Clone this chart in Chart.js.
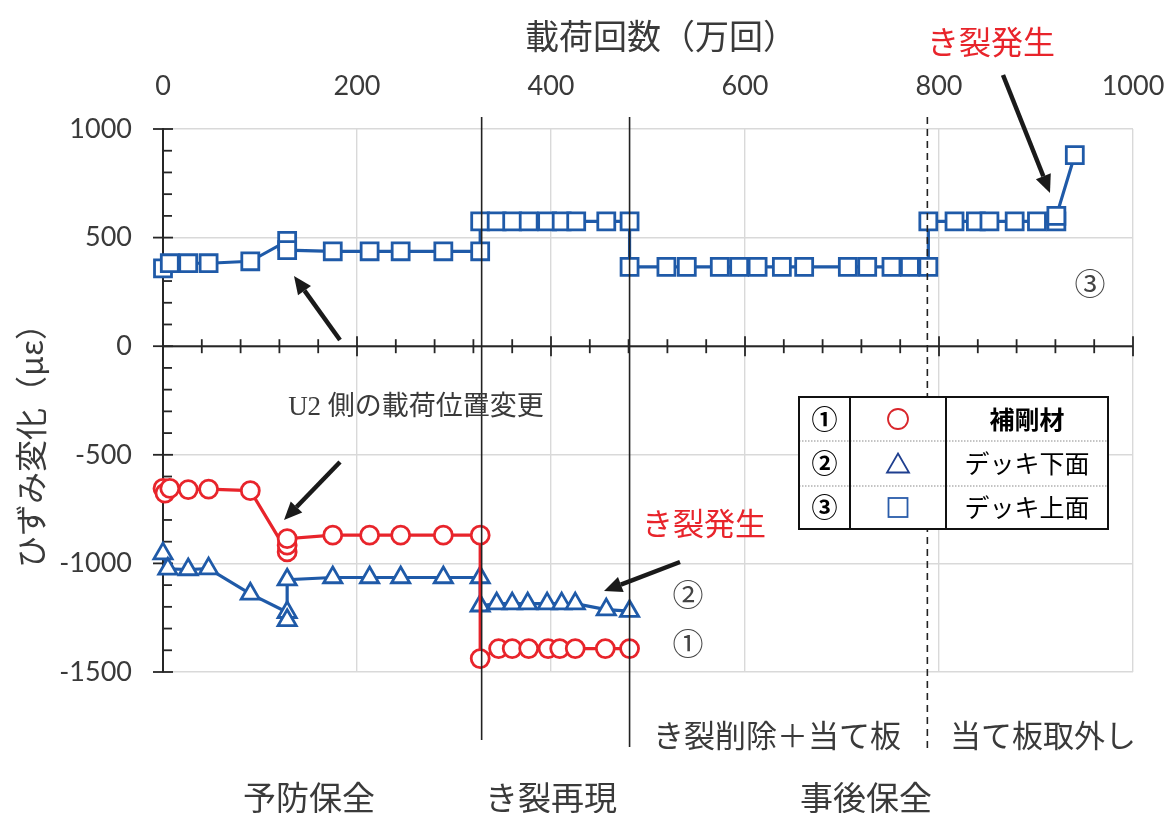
<!DOCTYPE html>
<html>
<head>
<meta charset="utf-8">
<script src="https://cdn.jsdelivr.net/npm/chart.js@4.4.1/dist/chart.umd.min.js"></script>
<style>
  html, body { margin: 0; padding: 0; background: #fff; }
</style>
</head>
<body>
<canvas id="c" width="1166" height="813"></canvas>
<script>
// 載荷回数（万回） と ひずみ変化（με）
const cyclesRib = [0, 2, 7, 26, 47, 90, 128, 128, 128, 175, 213, 245, 289, 327, 327, 346, 360, 377, 397, 409, 425, 456, 481];
const strainRib = [-655, -676, -655, -660, -658, -665, -947, -916, -886, -870, -870, -870, -870, -870, -1438, -1392, -1392, -1392, -1392, -1392, -1392, -1392, -1392];

const cyclesLower = [0, 5, 26, 47, 90, 128, 128, 128, 175, 213, 245, 289, 327, 327, 344, 360, 376, 396, 411, 425, 457, 481];
const strainLower = [-955, -1025, -1028, -1024, -1140, -1225, -1262, -1075, -1065, -1065, -1065, -1065, -1065, -1195, -1185, -1185, -1185, -1185, -1185, -1185, -1213, -1220];

const cyclesUpper = [0, 7, 26, 47, 90, 128, 128, 175, 213, 245, 289, 327, 327, 344, 360, 377, 396, 411, 426, 457, 481, 481, 519, 540, 574, 594, 613, 638, 661, 706, 726, 751, 770, 789, 789, 816, 838, 852, 878, 901, 921, 921, 940];
const strainUpper = [358, 382, 382, 382, 391, 485, 442, 437, 437, 437, 437, 437, 575, 575, 575, 575, 575, 575, 575, 575, 575, 365, 365, 365, 365, 365, 365, 365, 365, 365, 365, 365, 365, 365, 575, 575, 575, 575, 575, 575, 575, 600, 880];

const xTicks = [0, 200, 400, 600, 800, 1000];
const yTicks = [-1500, -1000, -500, 0, 500, 1000];

// 区切り線（き裂再現開始・当て板・当て板取外し）
const eventCycles = [328.5, 481, 788];

const blue = '#1f5aa8';
const red = '#e8242b';
const ink = '#3a3a3a';
const jp = '"Noto Sans CJK JP", sans-serif';

function toPts(xs, ys) {
  return xs.map(function (x, i) { return { x: x, y: ys[i] }; });
}

function label(c, s, x, y, font, color, rot) {
  c.save();
  c.font = font;
  c.fillStyle = color;
  c.textAlign = 'center';
  c.textBaseline = 'middle';
  c.translate(x, y);
  if (rot) c.rotate(rot);
  c.fillText(s, 0, 0);
  c.restore();
}

function arrow(c, x1, y1, x2, y2) {
  const a = Math.atan2(y2 - y1, x2 - x1);
  const L = 18, W = 8;
  const bx = x2 - L * Math.cos(a), by = y2 - L * Math.sin(a);
  c.save();
  c.strokeStyle = '#1a1a1a';
  c.fillStyle = '#1a1a1a';
  c.lineWidth = 4.5;
  c.beginPath(); c.moveTo(x1, y1); c.lineTo(bx, by); c.stroke();
  c.beginPath();
  c.moveTo(x2, y2);
  c.lineTo(bx + W * Math.sin(a), by - W * Math.cos(a));
  c.lineTo(bx - W * Math.sin(a), by + W * Math.cos(a));
  c.closePath(); c.fill();
  c.restore();
}

// y=0 の軸線と目盛り
const axisDeco = {
  id: 'axisDeco',
  beforeDatasetsDraw(chart) {
    const c = chart.ctx, xs = chart.scales.x, ys = chart.scales.y, a = chart.chartArea;
    const y0 = ys.getPixelForValue(0);
    c.save();
    c.strokeStyle = '#262626';
    c.lineWidth = 2;
    c.beginPath(); c.moveTo(a.left, y0); c.lineTo(a.right, y0); c.stroke();
    c.lineWidth = 1.8;
    for (let v = 0; v <= 1000; v += 40) {
      const p = xs.getPixelForValue(v), h = v % 200 === 0 ? 10 : 7;
      c.beginPath(); c.moveTo(p, y0 - h); c.lineTo(p, y0 + h); c.stroke();
    }
    for (let v = -1500; v <= 1000; v += 100) {
      const p = ys.getPixelForValue(v);
      c.beginPath();
      if (v % 500 === 0) { c.moveTo(a.left - 10, p); c.lineTo(a.left + 10, p); }
      else { c.moveTo(a.left, p); c.lineTo(a.left + 9, p); }
      c.stroke();
    }
    c.restore();
  }
};

const deco = {
  id: 'deco',
  afterDatasetsDraw(chart) {
    const c = chart.ctx, xs = chart.scales.x;
    c.save();
    c.strokeStyle = '#222';
    c.lineWidth = 1.6;
    const ends = [740, 747, 750];
    eventCycles.forEach(function (v, i) {
      const p = xs.getPixelForValue(v);
      c.setLineDash(i === 2 ? [7, 5] : []);
      c.beginPath(); c.moveTo(p, 117); c.lineTo(p, ends[i]); c.stroke();
    });
    c.restore();
  },
  afterDraw(chart) {
    const c = chart.ctx;
    // 軸タイトル
    label(c, '載荷回数（万回）', 661, 36, '34px ' + jp, ink);
    label(c, 'ひずみ変化（με）', 31, 438, '32px ' + jp, ink, -Math.PI / 2);

    // 注記
    label(c, 'き裂発生', 991, 42, '32px ' + jp, red);
    label(c, 'き裂発生', 704, 523, '31px ' + jp, red);
    label(c, 'U2 側の載荷位置変更', 416, 408, '27px "Liberation Serif", ' + jp, ink);
    arrow(c, 340, 340, 294, 276);
    arrow(c, 340, 462, 284, 520);
    arrow(c, 680, 562, 604, 591);
    arrow(c, 1003, 75, 1050, 193);

    label(c, '③', 1090, 283, '31px ' + jp, '#444');
    label(c, '②', 688, 594, '31px ' + jp, '#444');
    label(c, '①', 688, 643, '31px ' + jp, '#444');

    label(c, 'き裂削除＋当て板', 777, 735, '31px ' + jp, ink);
    label(c, '当て板取外し', 1043, 735, '31px ' + jp, ink);
    label(c, '予防保全', 309, 797, '33px ' + jp, ink);
    label(c, 'き裂再現', 551, 797, '33px ' + jp, ink);
    label(c, '事後保全', 866, 797, '33px ' + jp, ink);

    // 凡例の表
    const x0 = 799, x1 = 1108, y0 = 397, y1 = 529, c1 = 850, c2 = 946;
    const r1 = 441, r2 = 486;
    c.save();
    c.fillStyle = '#fff';
    c.fillRect(x0, y0, x1 - x0, y1 - y0);
    c.strokeStyle = '#8a8a8a';
    c.lineWidth = 1.2;
    c.setLineDash([1.5, 1.5]);
    [r1, r2].forEach(function (r) {
      c.beginPath(); c.moveTo(x0, r); c.lineTo(x1, r); c.stroke();
    });
    c.setLineDash([]);
    c.strokeStyle = '#111';
    c.lineWidth = 2;
    c.strokeRect(x0, y0, x1 - x0, y1 - y0);
    [c1, c2].forEach(function (cx) {
      c.beginPath(); c.moveTo(cx, y0); c.lineTo(cx, y1); c.stroke();
    });
    c.restore();

    const rows = [419, 463.5, 507.5];
    const mx = (c1 + c2) / 2;
    label(c, '①', (x0 + c1) / 2, rows[0], 'bold 26px ' + jp, '#000');
    label(c, '②', (x0 + c1) / 2, rows[1], 'bold 26px ' + jp, '#000');
    label(c, '③', (x0 + c1) / 2, rows[2], 'bold 26px ' + jp, '#000');
    label(c, '補剛材', (c2 + x1) / 2, rows[0], 'bold 25px ' + jp, '#000');
    label(c, 'デッキ下面', (c2 + x1) / 2, rows[1], '25px ' + jp, '#000');
    label(c, 'デッキ上面', (c2 + x1) / 2, rows[2], '25px ' + jp, '#000');

    c.save();
    c.lineWidth = 1.8;
    c.strokeStyle = '#d9262b';
    c.beginPath(); c.arc(mx, rows[0], 10, 0, Math.PI * 2); c.stroke();
    c.strokeStyle = '#1f3f8f';
    c.beginPath();
    c.moveTo(mx, rows[1] - 10); c.lineTo(mx + 11, rows[1] + 9); c.lineTo(mx - 11, rows[1] + 9);
    c.closePath(); c.stroke();
    c.strokeStyle = '#2a5caa';
    c.strokeRect(mx - 9.5, rows[2] - 9.5, 19, 19);
    c.restore();
  }
};

const chart = new Chart(document.getElementById('c').getContext('2d'), {
  type: 'scatter',
  data: {
    datasets: [
      {
        label: '補剛材',
        data: toPts(cyclesRib, strainRib),
        showLine: true,
        borderColor: red,
        borderWidth: 3.2,
        pointStyle: 'circle',
        pointRadius: 9,
        pointBorderWidth: 2.8,
        pointBorderColor: red,
        pointBackgroundColor: '#fff',
        clip: false
      },
      {
        label: 'デッキ下面',
        data: toPts(cyclesLower, strainLower),
        showLine: true,
        borderColor: blue,
        borderWidth: 3.2,
        pointStyle: 'triangle',
        pointRadius: 10.5,
        pointBorderWidth: 2.8,
        pointBorderColor: blue,
        pointBackgroundColor: '#fff',
        clip: false
      },
      {
        label: 'デッキ上面',
        data: toPts(cyclesUpper, strainUpper),
        showLine: true,
        borderColor: blue,
        borderWidth: 3.2,
        pointStyle: 'rect',
        pointRadius: 12,
        pointBorderWidth: 2.8,
        pointBorderColor: blue,
        pointBackgroundColor: '#fff',
        clip: false
      }
    ]
  },
  options: {
    responsive: false,
    animation: false,
    layout: { padding: { left: 0, top: 0, right: 33, bottom: 141 } },
    plugins: {
      legend: { display: false },
      tooltip: { enabled: false }
    },
    elements: { line: { tension: 0 } },
    scales: {
      x: {
        type: 'linear',
        position: 'top',
        min: 0,
        max: 1000,
        afterBuildTicks: function (s) { s.ticks = xTicks.map(function (v) { return { value: v }; }); },
        afterFit: function (s) { s.height = 129; s.paddingLeft = 0; s.paddingRight = 0; },
        ticks: {
          color: ink, font: { family: 'Lato', size: 27 }, padding: 27, maxRotation: 0,
          callback: function (v) { return String(v); }
        },
        grid: { color: '#d9d9d9', lineWidth: 1.4, drawTicks: false },
        border: { display: false }
      },
      y: {
        type: 'linear',
        min: -1500,
        max: 1000,
        afterBuildTicks: function (s) { s.ticks = yTicks.map(function (v) { return { value: v }; }); },
        afterFit: function (s) { s.width = 163; s.paddingTop = 0; s.paddingBottom = 0; },
        ticks: {
          color: ink, font: { family: 'Lato', size: 27 }, padding: 31,
          callback: function (v) { return String(v); }
        },
        grid: { color: '#d9d9d9', lineWidth: 1.4, drawTicks: false },
        border: { display: true, color: '#262626', width: 2 }
      }
    }
  },
  plugins: [axisDeco, deco]
});
</script>
</body>
</html>
